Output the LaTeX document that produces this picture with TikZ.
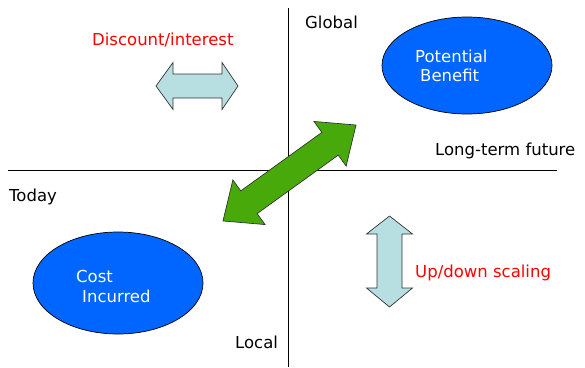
\documentclass[tikz,border=0pt]{standalone}
\usepackage{fontspec}
\setmainfont{DejaVu Sans}
\usetikzlibrary{shapes.geometric}
\definecolor{ellblue}{RGB}{0,102,255}
\definecolor{lblue}{RGB}{183,222,225}
\definecolor{agreen}{RGB}{72,170,10}
\definecolor{tred}{RGB}{255,0,0}
\begin{document}
\begin{tikzpicture}[x=1pt,y=-1pt,
  axis/.style={line width=1.8pt,black},
  lbl/.style={anchor=base west,inner sep=0pt,font=\fontsize{16.5}{19}\selectfont},
  redlbl/.style={lbl,text=tred},
  inlbl/.style={lbl,text=white},
  bubble/.style={ellipse,draw=black,line width=0.7pt,fill=ellblue,inner sep=0pt},
  blockarrow/.style={draw=black!80,line width=0.7pt,line join=miter}]
\useasboundingbox (0,0) rectangle (585,367);
% axes
\coordinate (hl) at (8,170.5);
\coordinate (hr) at (557,170.5);
\coordinate (vt) at (288.5,8);
\coordinate (vb) at (288.5,367);
\draw[axis] (hl) -- (hr);
\draw[axis] (vt) -- (vb);
% ellipses
\node[bubble,minimum width=170pt,minimum height=97pt] (pb) at (467,65.5) {};
\node[bubble,minimum width=170pt,minimum height=102pt] (ci) at (118,283) {};
\node[inlbl] (pbt1) at (415,62) {Potential};
\node[inlbl] (pbt2) at (420,81) {Benefit};
\node[inlbl] (cit1) at (76,282) {Cost};
\node[inlbl] (cit2) at (82,302) {Incurred};
% labels
\node[lbl] (global) at (305,28) {Global};
\node[lbl] (local) at (235,348) {Local};
\node[lbl] (today) at (9,201) {Today};
\node[lbl] (future) at (435,155) {Long-term future};
\node[redlbl] (disc) at (92,45) {Discount/interest};
\node[redlbl] (scal) at (415,277) {Up/down scaling};
% horizontal double arrow
\draw[blockarrow,fill=lblue] (156,86) -- (173,62.5) -- (173,74) -- (222,74) -- (222,62.5)
  -- (238,86) -- (222,109.5) -- (222,98) -- (173,98) -- (173,109.5) -- cycle;
% vertical double arrow
\draw[blockarrow,fill=lblue] (389.5,216) -- (412.5,234) -- (402,234) -- (402,288) -- (412.5,288)
  -- (389.5,307) -- (366.5,288) -- (377,288) -- (377,234) -- (366.5,234) -- cycle;
% green diagonal double arrow
\begin{scope}[shift={(289.5,173)},rotate=35.8]
\draw[blockarrow,fill=agreen] (82,0) -- (50,27.5) -- (50,14) -- (-50,14) -- (-50,27.5)
  -- (-82,0) -- (-50,-27.5) -- (-50,-14) -- (50,-14) -- (50,-27.5) -- cycle;
\end{scope}
\end{tikzpicture}
\end{document}
